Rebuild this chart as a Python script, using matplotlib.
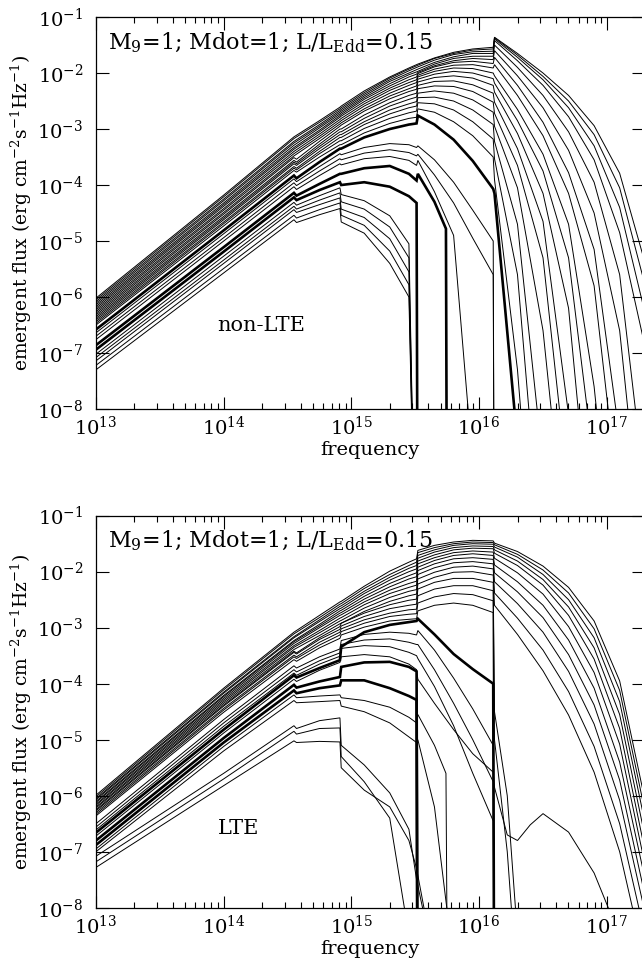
import numpy as np
import matplotlib
matplotlib.use("Agg")
import matplotlib.pyplot as plt
from matplotlib.ticker import LogLocator, NullFormatter, NullLocator

plt.rcParams['font.family'] = ['DejaVu Serif']
plt.rcParams['mathtext.fontset'] = 'dejavuserif'

n = np.nan

# log10 frequency knots shared by all curves (nan = curve not sampled there)
lognu = [13.0, 14.0, 14.55, 14.57, 14.75, 14.91, 14.92, 15.1, 15.3, 15.45,
         15.51, 15.52, 15.65, 15.74, 15.75, 15.8, 15.95, 16.11, 16.12, 16.22,
         16.3, 16.4, 16.5, 16.7, 16.9, 17.1, 17.3]

# non-LTE annuli, log10 flux (hottest first)
nlte_flux = [
    [-6.02, -4.18, -3.14, n, -2.85, -2.61, -2.59, -2.32, -2.07, -1.91, -1.85, -1.84, -1.73, n, n, -1.63, -1.57, -1.54, -1.36, n, -1.65, n, -2.00, -2.40, -2.94, -3.79, -5.40],
    [-6.05, -4.21, -3.17, n, -2.88, -2.64, -2.62, -2.35, -2.09, -1.93, -1.87, -1.86, -1.74, n, n, -1.65, -1.59, -1.57, -1.37, n, -1.68, n, -2.06, -2.50, -3.10, -4.05, -5.80],
    [-6.08, -4.25, -3.22, n, -2.92, -2.67, -2.65, -2.38, -2.12, -1.96, -1.90, -1.89, -1.77, n, n, -1.67, -1.62, -1.61, -1.39, n, -1.72, n, -2.12, -2.62, -3.30, -4.40, -6.30],
    [-6.11, -4.28, -3.25, n, -2.95, -2.70, -2.68, -2.41, -2.15, -2.00, -1.94, -1.93, -1.81, n, n, -1.71, -1.65, -1.65, -1.42, n, -1.78, n, -2.22, -2.78, -3.55, -4.85, -6.90],
    [-6.14, -4.32, -3.29, n, -2.98, -2.73, -2.71, -2.44, -2.19, -2.03, -1.98, -1.97, -1.84, n, n, -1.74, -1.70, -1.70, -1.50, n, -1.90, n, -2.40, -3.05, -3.95, -5.60, -9.50],
    [-6.17, -4.35, -3.33, n, -3.02, -2.76, -2.74, -2.47, -2.23, -2.07, -2.02, -1.99, -1.87, n, n, -1.78, -1.74, -1.76, -1.60, n, -2.05, n, -2.62, -3.38, -4.50, -6.60, -11.0],
    [-6.20, -4.38, -3.36, n, -3.05, -2.79, -2.77, -2.51, -2.27, -2.12, -2.07, -2.01, -1.89, n, n, -1.81, -1.79, -1.83, -1.72, n, -2.22, n, -2.88, -3.78, -5.15, -8.50, n],
    [-6.23, -4.42, -3.40, n, -3.09, -2.83, -2.81, -2.55, -2.31, -2.17, -2.12, -2.04, -1.93, n, n, -1.86, -1.85, -1.91, -1.85, n, -2.40, n, -3.12, -4.15, -5.80, -9.80, n],
    [-6.26, -4.45, -3.44, n, -3.13, -2.87, -2.85, -2.59, -2.36, -2.22, -2.17, -2.07, -1.97, n, n, -1.91, -1.92, -2.00, -2.05, n, -2.65, n, -3.45, -4.70, -7.60, -12.0, n],
    [-6.29, -4.49, -3.48, n, -3.17, -2.91, -2.89, -2.64, -2.41, -2.28, -2.23, -2.11, -2.02, n, n, -1.97, -2.00, -2.10, -2.18, n, -2.85, n, -3.75, -5.30, -9.00, n, n],
    [-6.32, -4.52, -3.51, -3.54, -3.22, -2.95, -2.93, -2.68, -2.46, -2.33, -2.29, -2.16, -2.08, n, n, -2.05, -2.09, -2.22, -2.34, n, -3.08, n, -4.15, -6.20, -11.0, n, n],
    [-6.35, -4.56, -3.56, -3.59, -3.27, -3.00, -3.00, -2.75, -2.53, -2.40, -2.36, -2.22, -2.15, n, n, -2.14, -2.21, -2.36, -2.52, n, -3.35, n, -4.65, -8.10, n, n, n],
    [-6.38, -4.59, -3.59, -3.62, -3.31, -3.05, -3.05, -2.81, -2.59, -2.47, -2.43, -2.28, -2.23, n, n, -2.24, -2.33, -2.52, -2.72, n, -3.65, n, -5.30, -9.50, n, n, n],
    [-6.41, -4.62, -3.62, -3.65, -3.35, -3.10, -3.10, -2.87, -2.66, -2.55, -2.51, -2.36, -2.32, n, n, -2.36, -2.48, -2.70, -2.95, n, -4.05, n, -6.60, -11.0, n, n, n],
    [-6.44, -4.66, -3.67, -3.70, -3.40, -3.15, -3.15, -2.92, -2.73, -2.62, -2.59, -2.44, -2.43, n, n, -2.50, -2.66, -2.92, -3.22, n, -4.70, n, -9.00, n, n, n, n],
    [-6.47, -4.69, -3.70, -3.73, -3.44, -3.21, -3.21, -2.99, -2.81, -2.71, -2.68, -2.53, -2.55, n, n, -2.66, -2.87, -3.18, -3.53, n, -5.60, n, -11.0, n, n, n, n],
    [-6.50, -4.73, -3.74, -3.77, -3.50, -3.28, -3.28, -3.07, -2.90, -2.81, -2.79, -2.64, -2.70, n, n, -2.87, -3.12, -3.50, -3.90, n, -7.30, n, -13.0, n, n, n, n],
    [-6.58, -4.81, -3.83, -3.88, -3.59, -3.35, -3.35, -3.15, -3.00, -2.92, -2.90, -2.76, -2.92, n, n, -3.19, -3.57, -4.07, -4.15, n, -8.60, n, n, n, n, n, n],
    [-6.64, -4.87, -3.89, -3.94, -3.67, -3.44, -3.46, -3.33, -3.26, -3.28, -3.33, -3.30, -3.55, n, n, -3.95, -4.45, -5.00, -12.0, n, n, n, n, n, n, n, n],
    [-6.70, -4.94, -3.96, -4.01, -3.75, -3.53, -3.55, -3.43, -3.37, -3.42, -3.48, -3.45, -3.82, n, n, -4.32, -4.95, -5.60, -12.0, n, n, n, n, n, n, n, n],
    [-6.76, -5.00, -4.03, -4.08, -3.83, -3.62, -3.64, -3.53, -3.49, -3.56, -3.65, -3.56, -4.12, n, n, -4.90, -9.00, n, n, n, n, n, n, n, n, n, n],
    [-6.86, -5.11, -4.14, -4.19, -3.98, -3.80, -3.80, -3.70, -3.66, -3.80, -3.92, -3.80, -4.30, -4.78, -12.0, n, n, n, n, n, n, n, n, n, n, n, n],
    [-6.94, -5.19, -4.22, -4.27, -4.09, -3.95, -4.00, -3.95, -4.03, -4.20, -4.32, -12.0, n, n, n, n, n, n, n, n, n, n, n, n, n, n, n],
    [-7.02, -5.27, -4.31, -4.36, -4.19, -4.05, -4.17, -4.28, -4.55, -5.05, -12.0, n, n, n, n, n, n, n, n, n, n, n, n, n, n, n, n],
    [-7.08, -5.34, -4.38, -4.43, -4.27, -4.14, -4.30, -4.43, -4.75, -5.30, -12.0, n, n, n, n, n, n, n, n, n, n, n, n, n, n, n, n],
    [-7.14, -5.40, -4.44, -4.49, -4.35, -4.23, -4.43, -4.58, -4.96, -5.55, -12.0, n, n, n, n, n, n, n, n, n, n, n, n, n, n, n, n],
    [-7.22, -5.49, -4.54, -4.59, -4.44, -4.32, -4.54, -4.72, -5.18, -5.78, -12.0, n, n, n, n, n, n, n, n, n, n, n, n, n, n, n, n],
    [-7.30, -5.57, -4.62, -4.67, -4.53, -4.42, -4.66, -4.86, -5.40, -6.00, -12.0, n, n, n, n, n, n, n, n, n, n, n, n, n, n, n, n],
]
nlte_thick = [17, 21, 22]

# LTE annuli, lower panel
lte_flux = [
    [-5.99, -4.08, -3.08, n, -2.78, -2.54, -2.53, -2.26, -1.99, -1.83, -1.77, -1.62, -1.53, n, n, -1.47, -1.44, -1.45, -1.49, n, -1.64, n, -1.90, -2.28, -2.88, -3.95, -6.10],
    [-6.02, -4.11, -3.11, n, -2.82, -2.58, -2.57, -2.30, -2.05, -1.89, -1.83, -1.66, -1.57, n, n, -1.50, -1.47, -1.48, -1.52, n, -1.69, n, -1.97, -2.38, -3.02, -4.12, -6.30],
    [-6.05, -4.15, -3.16, n, -2.86, -2.62, -2.61, -2.35, -2.10, -1.94, -1.89, -1.71, -1.61, n, n, -1.53, -1.50, -1.51, -1.56, n, -1.74, n, -2.05, -2.50, -3.18, -4.32, -6.50],
    [-6.07, -4.17, -3.18, n, -2.89, -2.66, -2.65, -2.39, -2.15, -2.00, -1.95, -1.76, -1.65, n, n, -1.57, -1.54, -1.55, -1.61, n, -1.81, n, -2.14, -2.63, -3.36, -4.55, -6.75],
    [-6.10, -4.21, -3.23, n, -2.94, -2.70, -2.69, -2.44, -2.21, -2.07, -2.02, -1.81, -1.70, n, n, -1.61, -1.58, -1.59, -1.67, n, -1.89, n, -2.24, -2.78, -3.56, -4.80, -7.00],
    [-6.12, -4.23, -3.25, n, -2.97, -2.74, -2.73, -2.49, -2.27, -2.13, -2.09, -1.86, -1.75, n, n, -1.66, -1.63, -1.65, -1.76, n, -2.02, n, -2.40, -2.98, -3.80, -5.08, -7.25],
    [-6.15, -4.26, -3.28, n, -3.00, -2.78, -2.77, -2.54, -2.33, -2.21, -2.17, -1.92, -1.80, n, n, -1.71, -1.68, -1.71, -1.88, n, -2.18, n, -2.60, -3.22, -4.08, -5.40, -7.50],
    [-6.17, -4.29, -3.32, n, -3.05, -2.83, -2.82, -2.59, -2.39, -2.28, -2.24, -1.98, -1.86, n, n, -1.77, -1.75, -1.78, -2.02, n, -2.36, n, -2.82, -3.48, -4.38, -5.72, -7.80],
    [-6.20, -4.32, -3.35, n, -3.09, -2.88, -2.87, -2.65, -2.46, -2.35, -2.32, -2.05, -1.93, n, n, -1.84, -1.82, -1.86, -2.18, n, -2.57, n, -3.08, -3.78, -4.72, -6.08, -8.10],
    [-6.22, -4.35, -3.39, n, -3.14, -2.93, -2.92, -2.71, -2.53, -2.43, -2.40, -2.13, -2.01, n, n, -1.92, -1.90, -1.95, -2.38, n, -2.83, n, -3.40, -4.14, -5.12, -6.50, -8.50],
    [-6.25, -4.38, -3.42, -3.45, -3.18, -2.98, -2.92, -2.74, -2.59, -2.51, -2.49, -2.22, -2.10, n, n, -2.01, -2.00, -2.06, -2.60, n, -3.12, n, -3.77, -4.56, -5.58, -7.00, -9.00],
    [-6.27, -4.40, -3.44, -3.47, -3.21, -3.03, -2.97, -2.80, -2.66, -2.60, -2.58, -2.31, -2.19, n, n, -2.12, -2.12, -2.19, -4.50, -6.00, -8.50, n, n, n, n, n, n],
    [-6.30, -4.44, -3.49, -3.52, -3.26, -3.08, -3.02, -2.86, -2.74, -2.68, -2.67, -2.43, -2.31, n, n, -2.25, -2.25, -2.34, -5.00, -7.00, -9.50, n, n, n, n, n, n],
    [-6.33, -4.47, -3.52, -3.55, -3.31, -3.13, -3.07, -2.92, -2.80, -2.76, -2.75, -2.56, -2.45, n, n, -2.39, -2.41, -2.52, -12.0, n, n, n, n, n, n, n, n],
    [-6.36, -4.51, -3.57, -3.60, -3.36, -3.19, -3.13, -2.99, -2.88, -2.85, -2.84, -2.70, -2.60, n, n, -2.56, -2.60, -2.73, -12.0, n, n, n, n, n, n, n, n],
    [-6.66, -4.82, -3.85, -3.89, -3.72, -3.58, -3.34, -3.08, -2.95, -2.90, -2.88, -2.84, -3.12, n, n, -3.47, -3.74, -4.00, -12.0, n, n, n, n, n, n, n, n],
    [-6.50, -4.64, -3.68, -3.72, -3.52, -3.38, -3.23, -3.12, -3.08, -3.10, -3.13, -3.05, -3.40, n, n, -3.90, -4.45, -5.10, -12.0, n, n, n, n, n, n, n, n],
    [-6.56, -4.70, -3.75, -3.79, -3.59, -3.45, -3.30, -3.22, -3.20, -3.26, -3.30, -3.30, -3.75, n, n, -4.35, -5.00, -5.75, -12.0, n, n, n, n, n, n, n, n],
    [-6.61, -4.76, -3.81, -3.85, -3.65, -3.51, -3.37, -3.32, -3.34, -3.44, -3.50, -3.55, -4.05, n, n, -4.75, -5.60, -6.45, -12.0, n, n, n, n, n, n, n, n],
    [-6.72, -4.88, -3.92, -3.96, -3.76, -3.62, -3.52, -3.48, -3.52, -3.65, -3.75, -3.92, -4.35, n, n, -4.82, -5.25, -5.58, -5.85, -6.70, -6.80, -6.52, -6.32, -6.65, -7.38, -8.50, n],
    [-6.80, -4.97, -4.02, -4.07, -3.96, -3.88, -3.70, -3.62, -3.61, -3.70, -3.78, -12.0, n, n, n, n, n, n, n, n, n, n, n, n, n, n, n],
    [-6.88, -5.05, -4.12, -4.17, -4.08, -4.03, -3.94, -3.94, -4.08, -4.22, -4.29, -12.0, n, n, n, n, n, n, n, n, n, n, n, n, n, n, n],
    [-6.95, -5.12, -4.20, -4.25, -4.22, -4.20, -4.25, -4.30, -4.42, -4.60, -4.70, -4.55, -5.10, -5.60, -9.00, n, n, n, n, n, n, n, n, n, n, n, n],
    [-7.00, -5.20, -4.30, -4.34, -4.32, -4.30, -4.40, -4.50, -4.70, -4.95, -5.05, -5.00, -6.20, n, n, -9.00, n, n, n, n, n, n, n, n, n, n, n],
    [-7.08, -5.60, -4.75, -4.80, -4.66, -4.61, -5.10, -5.45, -5.95, -6.60, -7.50, n, -9.00, n, n, n, n, n, n, n, n, n, n, n, n, n, n],
    [-7.18, -5.70, -4.85, -4.90, -4.80, -4.79, -5.30, -5.75, -6.40, -8.50, n, n, n, n, n, n, n, n, n, n, n, n, n, n, n, n, n],
    [-7.28, -5.82, -5.02, -5.05, -5.03, -5.04, -5.50, -5.90, -6.20, -6.80, -7.30, n, -9.00, n, n, n, n, n, n, n, n, n, n, n, n, n, n],
]
lte_thick = [15, 20, 21]

xlim = (1e13, 10 ** 17.29)
ylim = (1e-8, 1e-1)
title_text = r'M$_9$=1; Mdot=1; L/L$_{\rm Edd}$=0.15'
ylabel_text = r'emergent flux (erg cm$^{-2}$s$^{-1}$Hz$^{-1}$)'


def draw_panel(ax, rows, thick, label, label_y):
    nu = 10.0 ** np.array(lognu)
    for i, row in enumerate(rows):
        f = np.array(row, dtype=float)
        ok = np.isfinite(f)
        lw = 1.9 if i in thick else 0.7
        ax.plot(nu[ok], 10.0 ** f[ok], color='black', lw=lw, solid_joinstyle='miter')
    ax.set_xscale('log')
    ax.set_yscale('log')
    ax.set_xlim(*xlim)
    ax.set_ylim(*ylim)
    ax.xaxis.set_major_locator(LogLocator(base=10, numticks=10))
    ax.xaxis.set_minor_locator(LogLocator(base=10, subs=np.arange(2, 10), numticks=20))
    ax.xaxis.set_minor_formatter(NullFormatter())
    ax.yaxis.set_major_locator(LogLocator(base=10, numticks=10))
    ax.yaxis.set_minor_locator(NullLocator())
    ax.tick_params(which='both', direction='in', top=True, right=True, labelsize=14)
    ax.tick_params(axis='x', pad=5)
    ax.tick_params(axis='y', pad=9)
    ax.tick_params(which='major', length=9, width=0.8)
    ax.tick_params(which='minor', length=4.5, width=0.8)
    for s in ax.spines.values():
        s.set_linewidth(0.9)
    ax.set_xlabel('frequency', fontsize=14, va='center')
    ax.xaxis.set_label_coords(0.5, -0.105)
    ax.set_ylabel(ylabel_text, fontsize=13.5, va='center')
    ax.yaxis.set_label_coords(-0.136, 0.5)
    ax.text(0.022, 0.935, title_text, transform=ax.transAxes, fontsize=16,
            ha='left', va='center')
    ax.text(0.222, label_y, label, transform=ax.transAxes, fontsize=15,
            ha='left', va='center')


fig = plt.figure(figsize=(6.42, 9.63), dpi=100)
ax1 = fig.add_axes([0.1495, 0.5753, 0.8535, 0.4070])
ax2 = fig.add_axes([0.1495, 0.0574, 0.8535, 0.4071])
draw_panel(ax1, nlte_flux, nlte_thick, 'non-LTE', 0.212)
draw_panel(ax2, lte_flux, lte_thick, 'LTE', 0.203)

fig.savefig('out.png', dpi=100)
